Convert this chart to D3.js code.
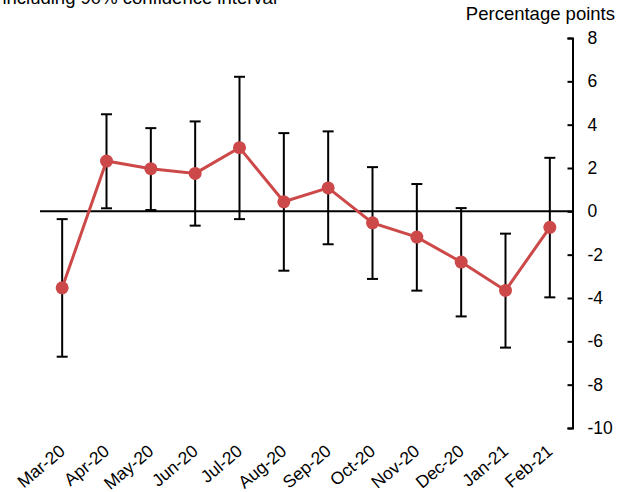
<!DOCTYPE html>
<html>
<head>
<meta charset="utf-8">
<script src="https://cdn.jsdelivr.net/npm/d3@7"></script>
<style>
  body { margin: 0; background: #fff; }
  svg { display: block; font-family: "Liberation Sans", Arial, sans-serif; }
</style>
</head>
<body>
<svg id="chart" width="620" height="492"></svg>
<script>
let months = ["Mar-20", "Apr-20", "May-20", "Jun-20", "Jul-20", "Aug-20", "Sep-20", "Oct-20", "Nov-20", "Dec-20", "Jan-21", "Feb-21"];
let estimate = [-3.53, 2.32, 1.97, 1.75, 2.94, 0.44, 1.08, -0.53, -1.19, -2.34, -3.65, -0.74];
let ci_upper = [-0.36, 4.48, 3.84, 4.15, 6.21, 3.61, 3.69, 2.04, 1.26, 0.15, -1.03, 2.47];
let ci_lower = [-6.71, 0.14, 0.06, -0.66, -0.36, -2.74, -1.52, -3.12, -3.66, -4.85, -6.29, -3.97];
let y_ticks = [8, 6, 4, 2, 0, -2, -4, -6, -8, -10];

let data = months.map((m, i) => ({
    month: m,
    value: estimate[i],
    hi: ci_upper[i],
    lo: ci_lower[i]
}));

let svg = d3.select("#chart");
let red = "#cd4848";

let x = d3.scaleBand()
    .domain(months)
    .range([40, 572]);
let y = d3.scaleLinear()
    .domain([-10, 8])
    .range([428, 38]);

let cx = d => x(d.month) + x.bandwidth() / 2;

// title, cut off at the top like the original
svg.append("text")
    .attr("x", 277)
    .attr("y", 4)
    .attr("text-anchor", "end")
    .attr("font-size", "18.5px")
    .text("including 90% confidence interval");

svg.append("text")
    .attr("x", 615)
    .attr("y", 20)
    .attr("text-anchor", "end")
    .attr("font-size", "18.5px")
    .text("Percentage points");

// right axis, ticks pointing inward, plain hyphen minus
let y_axis = svg.append("g")
    .attr("transform", "translate(572.5,0)")
    .call(d3.axisRight(y)
        .tickValues(y_ticks)
        .tickFormat(d => String(d))
        .tickSize(-5)
        .tickSizeOuter(-5)
        .tickPadding(15));
y_axis.selectAll("path, line").attr("stroke", "#000").attr("stroke-width", 2);
y_axis.selectAll("text")
    .attr("font-size", "17.5px")
    .attr("font-family", "Liberation Sans, Arial, sans-serif")
    .attr("fill", "#000");

// zero line
svg.append("line")
    .attr("x1", 40)
    .attr("x2", 572.5)
    .attr("y1", y(0))
    .attr("y2", y(0))
    .attr("stroke", "#000")
    .attr("stroke-width", 2);

// x labels
svg.append("g")
    .selectAll("text")
    .data(data)
    .enter().append("text")
        .attr("transform", d => `translate(${cx(d) + 4}, 453) rotate(-40)`)
        .attr("text-anchor", "end")
        .attr("font-size", "17.5px")
        .text(d => d.month);

// error bars
let bars = svg.append("g")
    .attr("stroke", "#000")
    .attr("stroke-width", 2);

bars.selectAll(".ci")
    .data(data)
    .enter().append("line")
        .attr("class", "ci")
        .attr("x1", cx)
        .attr("x2", cx)
        .attr("y1", d => y(d.hi))
        .attr("y2", d => y(d.lo));

bars.selectAll(".cap-hi")
    .data(data)
    .enter().append("line")
        .attr("class", "cap-hi")
        .attr("x1", d => cx(d) - 5.5)
        .attr("x2", d => cx(d) + 5.5)
        .attr("y1", d => y(d.hi))
        .attr("y2", d => y(d.hi));

bars.selectAll(".cap-lo")
    .data(data)
    .enter().append("line")
        .attr("class", "cap-lo")
        .attr("x1", d => cx(d) - 5.5)
        .attr("x2", d => cx(d) + 5.5)
        .attr("y1", d => y(d.lo))
        .attr("y2", d => y(d.lo));

// estimate line + dots
let est_line = d3.line()
    .x(cx)
    .y(d => y(d.value));

svg.append("path")
    .datum(data)
    .attr("fill", "none")
    .attr("stroke", red)
    .attr("stroke-width", 3)
    .attr("d", est_line);

svg.selectAll(".dot")
    .data(data)
    .enter().append("circle")
        .attr("class", "dot")
        .attr("cx", cx)
        .attr("cy", d => y(d.value))
        .attr("r", 6.5)
        .attr("fill", red);
</script>
</body>
</html>
